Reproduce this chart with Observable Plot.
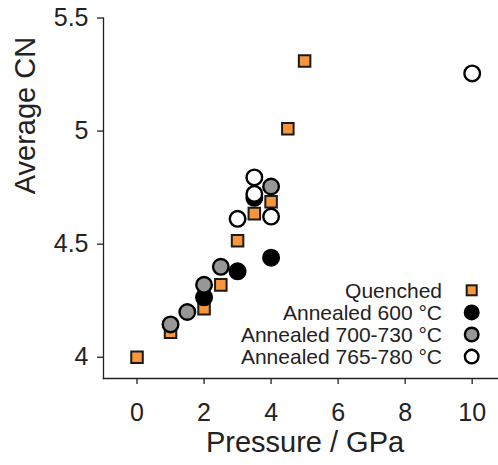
<!DOCTYPE html>
<html><head><meta charset="utf-8">
<script src="https://cdn.jsdelivr.net/npm/d3@7"></script>
<script src="https://cdn.jsdelivr.net/npm/@observablehq/plot@0.6"></script>
<style>body{margin:0;background:#fff} #chart{position:relative;width:498px;height:465px}</style>
</head><body><div id="chart"></div>
<script>
// ---- data ----
const quenchedP  = [0, 1, 2, 2.5, 3, 3.5, 4, 4.5, 5];
const quenchedCN = [4.00, 4.11, 4.215, 4.32, 4.515, 4.635, 4.688, 5.01, 5.31];
const a600P  = [2, 3, 3.5, 4];
const a600CN = [4.265, 4.38, 4.705, 4.44];
const a700P  = [1, 1.5, 2, 2.5, 4];
const a700CN = [4.145, 4.20, 4.32, 4.40, 4.755];
const a765P  = [3, 3.5, 3.5, 4, 10];
const a765CN = [4.612, 4.795, 4.722, 4.622, 5.255];
const seriesNames = ["Quenched", "Annealed 600 °C", "Annealed 700-730 °C", "Annealed 765-780 °C"];
const xTicks = [0, 2, 4, 6, 8, 10];
const yTicks = [4, 4.5, 5, 5.5];
const xLabel = "Pressure / GPa";
const yLabel = "Average CN";

const toRows = (P, CN) => P.map((p, i) => ({p, cn: CN[i]}));
const ink = "#222";
const orange = "#F7963B";
const gray = "#979797";

const plot = Plot.plot({
  width: 498, height: 465,
  marginLeft: 103, marginRight: 0, marginTop: 17.5, marginBottom: 87,
  style: {fontFamily: "'Liberation Sans', Arial, Helvetica, sans-serif", color: ink, background: "#fff", overflow: "visible"},
  x: {domain: [-1, 10.785]},
  y: {domain: [3.906, 5.5]},
  marks: [
    Plot.frame({anchor: "left", stroke: ink, strokeWidth: 1.3}),
    Plot.frame({anchor: "bottom", stroke: ink, strokeWidth: 1.3}),
    Plot.axisX({ticks: xTicks, tickSize: 6, tickPadding: 19, fontSize: 25, label: null, stroke: ink, strokeWidth: 1.3, fill: ink}),
    Plot.axisY({ticks: yTicks, tickSize: 6, tickPadding: 9, fontSize: 25, label: null, tickFormat: d => String(d), stroke: ink, strokeWidth: 1.3, fill: ink}),
    Plot.text([xLabel], {text: d => d, frameAnchor: "bottom", dy: 73, dx: 4, fontSize: 29, fill: ink}),
    Plot.text([yLabel], {text: d => d, frameAnchor: "left", rotate: -90, dx: -78, dy: -4, fontSize: 29, fill: ink}),
    Plot.dot(toRows(quenchedP, quenchedCN), {x: "p", y: "cn", symbol: "square", r: 6.5, fill: orange, stroke: "#1a1a1a", strokeWidth: 2}),
    Plot.dot(toRows(a600P, a600CN), {x: "p", y: "cn", r: 7.8, fill: "#000", stroke: "#000", strokeWidth: 2.4}),
    Plot.dot(toRows(a700P, a700CN), {x: "p", y: "cn", r: 7.8, fill: gray, stroke: "#000", strokeWidth: 2.4}),
    Plot.dot(toRows(a765P, a765CN), {x: "p", y: "cn", r: 7.8, fill: "#fff", stroke: "#000", strokeWidth: 2.4})
  ]
});
document.getElementById("chart").appendChild(plot);

// ---- legend (pixel layout) ----
const svg = d3.select(plot);
const legendStyles = [
  {shape: "square", fill: orange},
  {shape: "circle", fill: "#000"},
  {shape: "circle", fill: gray},
  {shape: "circle", fill: "#fff"}
];
const lg = svg.append("g").attr("font-family", "'Liberation Sans', Arial, Helvetica, sans-serif").attr("font-size", 21);
seriesNames.forEach((name, i) => {
  const cy = 290.3 + i * 22.1;
  lg.append("text").attr("x", 442).attr("y", cy).attr("dy", "0.35em").attr("text-anchor", "end").attr("fill", ink).text(name);
  const st = legendStyles[i];
  if (st.shape === "square") {
    lg.append("rect").attr("x", 471.7 - 5).attr("y", cy - 5).attr("width", 10).attr("height", 10)
      .attr("fill", st.fill).attr("stroke", "#1a1a1a").attr("stroke-width", 2);
  } else {
    lg.append("circle").attr("cx", 471.7).attr("cy", cy).attr("r", 6.8)
      .attr("fill", st.fill).attr("stroke", "#000").attr("stroke-width", 2.4);
  }
});
</script>
</body></html>
